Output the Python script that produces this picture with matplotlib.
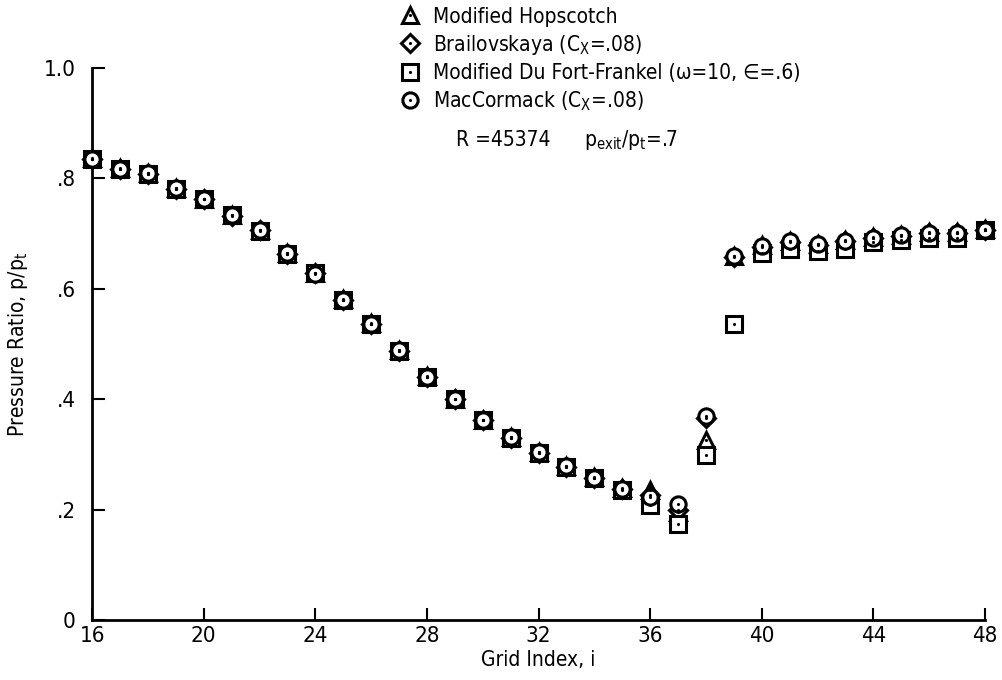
import numpy as np
import matplotlib.pyplot as plt

plt.rcParams['font.family'] = ['DejaVu Sans']
plt.rcParams['font.stretch'] = 'condensed'
plt.rcParams['mathtext.default'] = 'regular'

# Grid index
grid_i = np.arange(16, 49)

# Pressure ratio p/pt for each scheme
hopscotch = [0.837, 0.818, 0.809, 0.782, 0.763, 0.734, 0.707, 0.665, 0.629, 0.581,
             0.538, 0.489, 0.442, 0.401, 0.363, 0.331, 0.304, 0.279, 0.259, 0.239,
             0.236, 0.196, 0.327, 0.660, 0.680, 0.687, 0.682, 0.688, 0.694, 0.698,
             0.703, 0.703, 0.708]
brailovskaya = [0.835, 0.817, 0.808, 0.781, 0.762, 0.732, 0.706, 0.664, 0.628, 0.580,
                0.537, 0.488, 0.441, 0.400, 0.362, 0.330, 0.303, 0.278, 0.258, 0.238,
                0.227, 0.200, 0.367, 0.658, 0.675, 0.685, 0.680, 0.686, 0.692, 0.696,
                0.701, 0.701, 0.707]
dufort = [0.835, 0.817, 0.808, 0.781, 0.762, 0.733, 0.705, 0.664, 0.628, 0.580,
          0.536, 0.488, 0.441, 0.400, 0.362, 0.330, 0.303, 0.278, 0.257, 0.236,
          0.209, 0.175, 0.300, 0.536, 0.665, 0.673, 0.669, 0.673, 0.684, 0.688,
          0.692, 0.693, 0.706]
maccormack = [0.836, 0.817, 0.809, 0.782, 0.762, 0.733, 0.706, 0.665, 0.627, 0.580,
              0.537, 0.489, 0.441, 0.401, 0.363, 0.331, 0.304, 0.279, 0.258, 0.238,
              0.223, 0.210, 0.370, 0.660, 0.678, 0.686, 0.681, 0.687, 0.693, 0.697,
              0.702, 0.702, 0.707]

x_ticks = [16, 20, 24, 28, 32, 36, 40, 44, 48]
y_ticks = [0, 0.2, 0.4, 0.6, 0.8, 1.0]
y_tick_labels = ['0', '.2', '.4', '.6', '.8', '1.0']

fig = plt.figure(figsize=(10.02, 6.8), dpi=100)
ax = fig.add_axes([0.092, 0.088, 0.891, 0.812])

series = [
    (hopscotch, '^', 'Modified Hopscotch'),
    (brailovskaya, 'D', 'Brailovskaya (C$_X$=.08)'),
    (dufort, 's', 'Modified Du Fort-Frankel (\u03c9=10, \u2208=.6)'),
    (maccormack, 'o', 'MacCormack (C$_X$=.08)'),
]
handles = []
for vals, mk, lab in series:
    ms = 9 if mk == 'D' else 11
    line, = ax.plot(grid_i, vals, linestyle='none', marker=mk, ms=ms, mfc='white',
                    mec='black', mew=2.2, clip_on=False, zorder=3)
    dot, = ax.plot(grid_i, vals, linestyle='none', marker='.', ms=2.5,
                   color='black', clip_on=False, zorder=4)
    handles.append((line, dot))

ax.set_xlim(16, 48)
ax.set_ylim(0, 1.0)
ax.set_xticks(x_ticks)
ax.set_yticks(y_ticks)
ax.set_yticklabels(y_tick_labels)
for s in ['top', 'right']:
    ax.spines[s].set_visible(False)
for s in ['left', 'bottom']:
    ax.spines[s].set_linewidth(2)
ax.tick_params(direction='in', length=9, width=1.5, labelsize=16)
ax.tick_params(axis='x', pad=4)
ax.tick_params(axis='y', pad=12)
ax.set_xlabel('Grid Index, i', fontsize=15, labelpad=3)
ax.set_ylabel('Pressure Ratio, p/p$_t$', fontsize=15, labelpad=10)

fig.legend(handles, [s[2] for s in series], loc='upper left',
           bbox_to_anchor=(0.38, 1.018), frameon=False, fontsize=15,
           handlelength=1.0, handletextpad=0.6, labelspacing=0.3)
fig.text(0.455, 0.785, 'R =45374', fontsize=15)
fig.text(0.583, 0.785, 'p$_{exit}$/p$_t$=.7', fontsize=15)

fig.savefig('out.png', dpi=100)
